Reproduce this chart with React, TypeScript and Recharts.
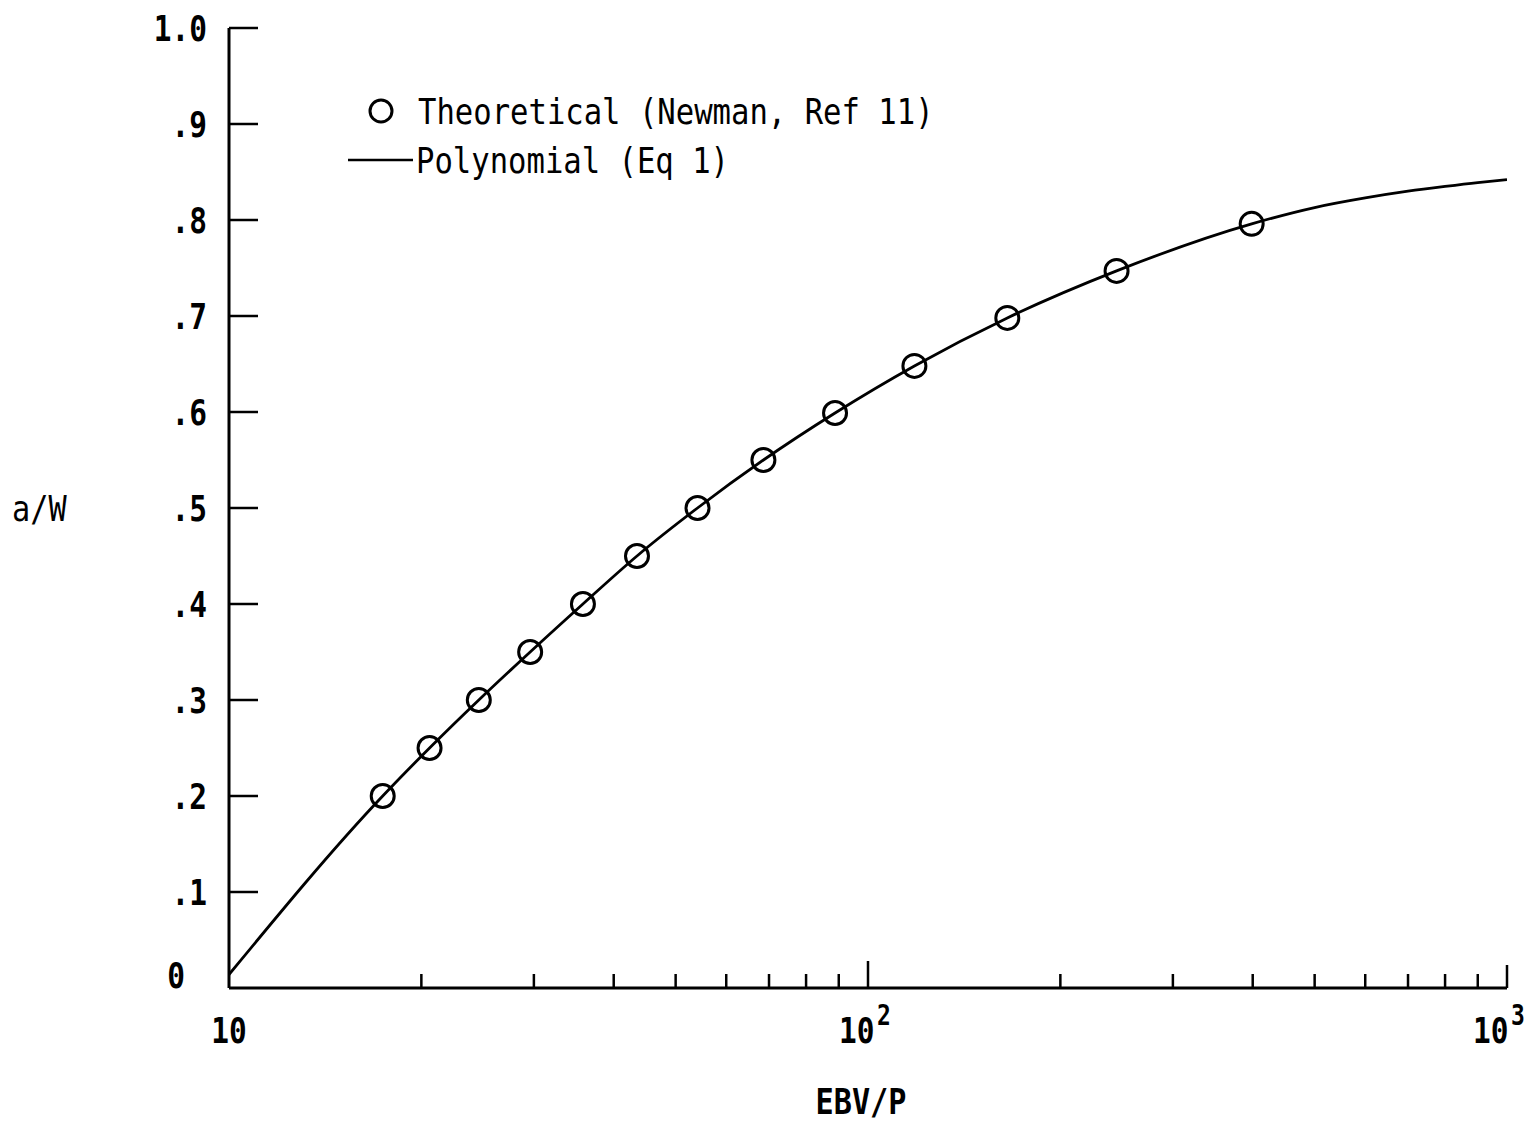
import { ComposedChart, Label, Legend, Line, Scatter, XAxis, YAxis } from 'recharts';

// Theoretical points (Newman, Ref 11)
const theoryX = [17.4, 20.6, 24.6, 29.6, 35.8, 43.5, 54.1, 68.6, 88.8, 118.2, 165.2, 244.9, 398.5];
const theoryY = [0.2, 0.25, 0.3, 0.35, 0.4, 0.45, 0.5, 0.55, 0.599, 0.648, 0.698, 0.747, 0.796];

// Polynomial (Eq 1) curve
const polyX = [10, 17.4, 20.6, 24.6, 29.6, 35.8, 43.5, 54.1, 68.6, 88.8, 118.2, 165.2, 244.9, 398.5, 500, 600, 700, 800, 900, 1000];
const polyY = [0.014, 0.2, 0.25, 0.3, 0.35, 0.4, 0.45, 0.5, 0.55, 0.599, 0.648, 0.698, 0.747, 0.796, 0.813, 0.823, 0.83, 0.835, 0.839, 0.842];

const xTicks = [10, 20, 30, 40, 50, 60, 70, 80, 90, 100, 200, 300, 400, 500, 600, 700, 800, 900, 1000];
const yTicks = [0, 0.1, 0.2, 0.3, 0.4, 0.5, 0.6, 0.7, 0.8, 0.9, 1.0];
const yTickLabels = ['0', '.1', '.2', '.3', '.4', '.5', '.6', '.7', '.8', '.9', '1.0'];
const seriesNames = ['Theoretical (Newman, Ref 11)', 'Polynomial (Eq 1)'];

const theoryData = theoryX.map((x, i) => ({ x, y: theoryY[i] }));
const polyData = polyX.map((x, i) => ({ x, y: polyY[i] }));

const FONT = '"DejaVu Sans Mono", "Liberation Mono", monospace';

const Txt = ({ x, y, anchor = 'start', size = 36, sx = 0.85, bold = false, children }: any) => (
  <text
    transform={`translate(${x},${y}) scale(${sx},1)`}
    textAnchor={anchor}
    fontFamily={FONT}
    fontSize={size}
    fontWeight={bold ? 'bold' : 'normal'}
    fill='#000'>
    {children}
  </text>
);

const XTick = (props: any) => {
  const { x, y, payload } = props;
  const v = payload.value;
  const len = v === 10 ? 0 : v === 100 ? 27 : v === 1000 ? 23 : 14;
  let label = null;
  if (v === 10) {
    label = <Txt x={x} y={y + 55} anchor='middle' size={36} sx={0.82} bold>10</Txt>;
  } else if (v === 100 || v === 1000) {
    const sup = v === 100 ? '2' : '3';
    const start = v === 100 ? x - 29 : x - 34;
    label = (
      <g>
        <Txt x={start} y={y + 55} size={36} sx={0.82} bold>10</Txt>
        <Txt x={start + 38} y={y + 37} size={28} sx={0.82} bold>{sup}</Txt>
      </g>
    );
  }
  return (
    <g>
      {len > 0 && <line x1={x} y1={y} x2={x} y2={y - len} stroke='#000' strokeWidth={2.5} />}
      {label}
    </g>
  );
};

const YTick = (props: any) => {
  const { x, y, payload } = props;
  const i = yTicks.indexOf(payload.value);
  const isZero = payload.value === 0;
  return (
    <g>
      {!isZero && <line x1={x} y1={y} x2={x + 29} y2={y} stroke='#000' strokeWidth={2.5} />}
      <Txt x={isZero ? x - 44 : x - 22} y={isZero ? y : y + 13} anchor='end' sx={0.82} bold>
        {yTickLabels[i]}
      </Txt>
    </g>
  );
};

const LegendBox = () => (
  <svg width={1000} height={200} style={{ position: 'absolute', left: 0, top: 0 }}>
    <circle cx={381} cy={111} r={11} fill='none' stroke='#000' strokeWidth={3} />
    <Txt x={418} y={124}>{seriesNames[0]}</Txt>
    <line x1={348} y1={160} x2={413} y2={160} stroke='#000' strokeWidth={2.5} />
    <Txt x={416} y={173}>{seriesNames[1]}</Txt>
  </svg>
);

const Ring = (props: any) => (
  <circle cx={props.cx} cy={props.cy} r={11.5} fill='none' stroke='#000' strokeWidth={3} />
);

const App = () => {
  return (
    <div style={{ position: 'absolute', left: 0, top: 0, background: '#fff' }}>
      <ComposedChart width={1539} height={1134} margin={{ top: 28, right: 32, bottom: 0, left: 0 }}>
        <XAxis
          type='number'
          dataKey='x'
          scale='log'
          domain={[10, 1000]}
          ticks={xTicks}
          interval={0}
          allowDataOverflow
          height={146}
          tickSize={0}
          tickMargin={0}
          tickLine={false}
          axisLine={{ stroke: '#000', strokeWidth: 3 }}
          tick={<XTick />}>
          <Label
            content={({ viewBox }: any) => (
              <Txt x={viewBox.x + viewBox.width / 2 - 7} y={viewBox.y + 126} anchor='middle' sx={0.84} bold>
                EBV/P
              </Txt>
            )}
          />
        </XAxis>
        <YAxis
          type='number'
          dataKey='y'
          domain={[0, 1]}
          ticks={yTicks}
          interval={0}
          width={229}
          tickSize={0}
          tickMargin={0}
          tickLine={false}
          axisLine={{ stroke: '#000', strokeWidth: 3 }}
          tick={<YTick />}>
          <Label
            content={({ viewBox }: any) => (
              <Txt x={12} y={viewBox.y + viewBox.height / 2 + 13} sx={0.84}>
                a/W
              </Txt>
            )}
          />
        </YAxis>
        <Legend
          layout='vertical'
          align='center'
          verticalAlign='middle'
          wrapperStyle={{ position: 'absolute', left: 0, top: 0, width: 1000, height: 200 }}
          content={() => <LegendBox />}
        />
        <Line
          data={polyData}
          dataKey='y'
          name={seriesNames[1]}
          type='monotone'
          stroke='#000'
          strokeWidth={2.8}
          dot={false}
          activeDot={false}
          isAnimationActive={false}
        />
        <Scatter
          data={theoryData}
          dataKey='y'
          name={seriesNames[0]}
          shape={<Ring />}
          isAnimationActive={false}
        />
      </ComposedChart>
    </div>
  );
};

export default App;
